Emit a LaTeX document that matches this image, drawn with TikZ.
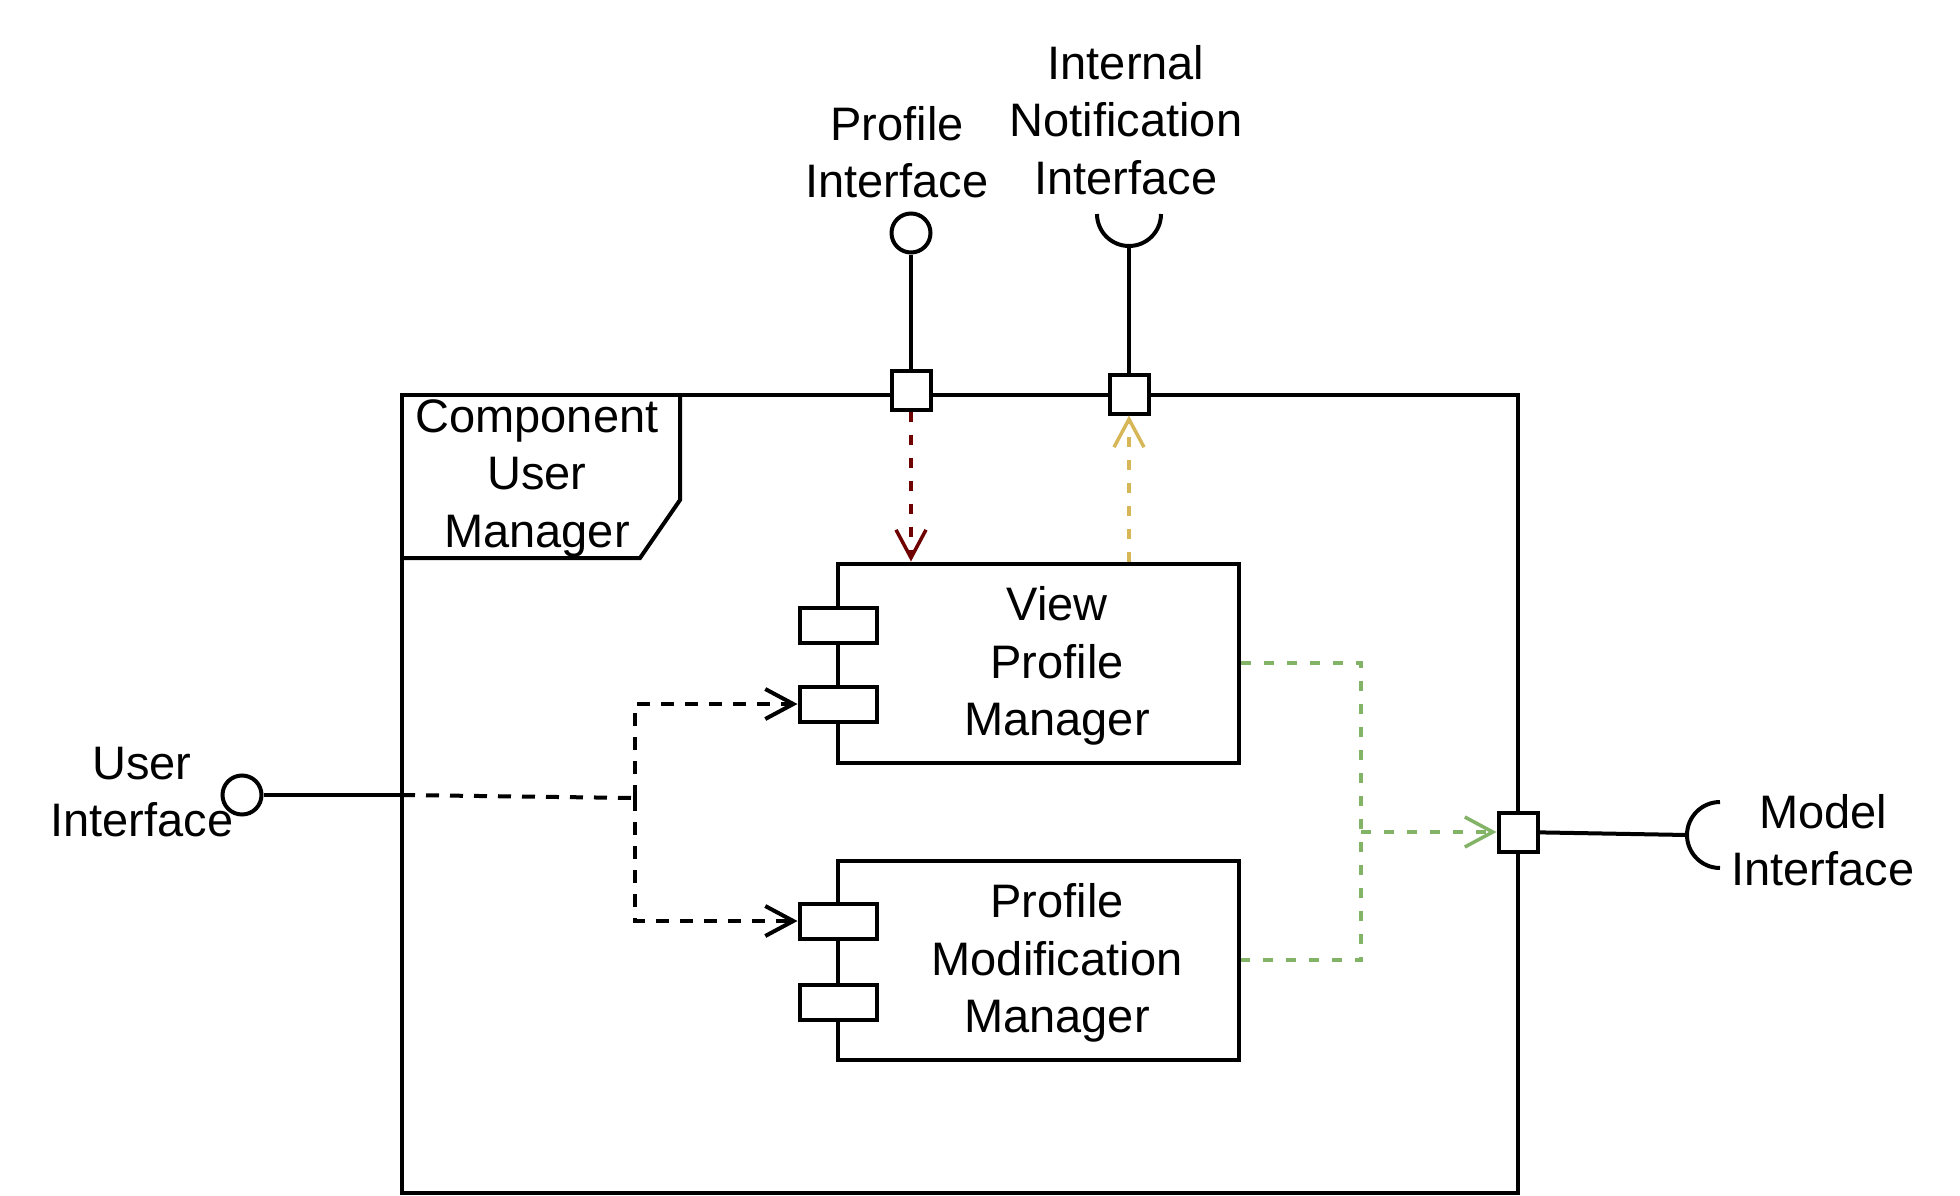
\documentclass[tikz,border=0pt]{standalone}
\usepackage{fontspec}
\setmainfont{Liberation Sans}
\usetikzlibrary{arrows.meta}
\definecolor{depred}{HTML}{6F0000}
\definecolor{depyellow}{HTML}{D6B656}
\definecolor{depgreen}{HTML}{82B366}
\begin{document}
\begin{tikzpicture}[x=1pt,y=-1pt,align=center,line width=4pt,
        font=\fontsize{47}{57.5}\selectfont,
        port/.style={draw,fill=white,minimum size=39pt,inner sep=0pt},
        comp/.style={draw,minimum width=401pt,minimum height=199pt,inner sep=0pt},
        stub/.style={draw,fill=white,minimum width=77pt,minimum height=35pt,inner sep=0pt},
        lolli/.style={draw,circle,fill=white,minimum size=39pt,inner sep=0pt},
        vtip/.style={-{Straight Barb[length=28pt,width=30pt]}},
        dep/.style={dash pattern=on 13pt off 11pt},
        cdep/.style={line width=3.5pt,dash pattern=on 10pt off 13pt}]
        \useasboundingbox (0,0) rectangle (1960,1196);
        \node[draw,minimum width=1116pt,minimum height=798pt,inner sep=0pt](frame) at (960,793.5) {};
        \draw (680,394) -- (680,500) -- (640,558) -- (402,558);
        \node(cum) at (537,478) {Component\\User\\Manager};
        \node[comp](vpm) at (1038,663) {};
        \node[comp](pmm) at (1038,960) {};
        \node[stub](vpm1) at (838,625) {};
        \node[stub](vpm2) at (838,704) {};
        \node[stub](pmm1) at (838,921) {};
        \node[stub](pmm2) at (838,1002) {};
        \node(vpmt) at (1057,666) {View\\Profile\\Manager};
        \node(pmmt) at (1057,963) {Profile\\Modification\\Manager};
        \node[port](pport) at (911,390) {};
        \node[port](nport) at (1129,394) {};
        \node[port](mport) at (1518,832) {};
        \node[lolli](pball) at (911,233) {};
        \node[lolli](uball) at (242,795) {};
        \coordinate(nsock) at (1129,246);
        \coordinate(msock) at (1687,835);
        \coordinate(ujoin) at (402,795);
        \coordinate(ubend) at (635,798);
        \coordinate(gmid) at (1361,832);
        \node(ptext) at (897,152) {Profile\\Interface};
        \node(ntext) at (1126,120) {Internal\\Notification\\Interface};
        \node(utext) at (142,792) {User\\Interface};
        \node(mtext) at (1823,840) {Model\\Interface};
        \draw (pball) -- (pport);
        \draw (nsock) -- (nport);
        \draw ([shift={(-32,-32)}]nsock) arc (180:0:32);
        \draw (mport) -- (msock);
        \draw ([shift={(33,-33)}]msock) arc (270:90:33);
        \draw (uball) -- (ujoin);
        \draw[dep] (ujoin) -- (ubend);
        \draw[dep,vtip] (ubend) |- (vpm2);
        \draw[dep,vtip] (ubend) |- (pmm1);
        \draw[cdep,vtip,depred] (pport) -- (pport |- vpm.north);
        \draw[cdep,vtip,depyellow] (nport |- vpm.north) -- (nport);
        \draw[cdep,depgreen] (vpm) -| (gmid) |- (pmm);
        \draw[cdep,vtip,depgreen] (gmid) -- (mport);
\end{tikzpicture}
\end{document}
